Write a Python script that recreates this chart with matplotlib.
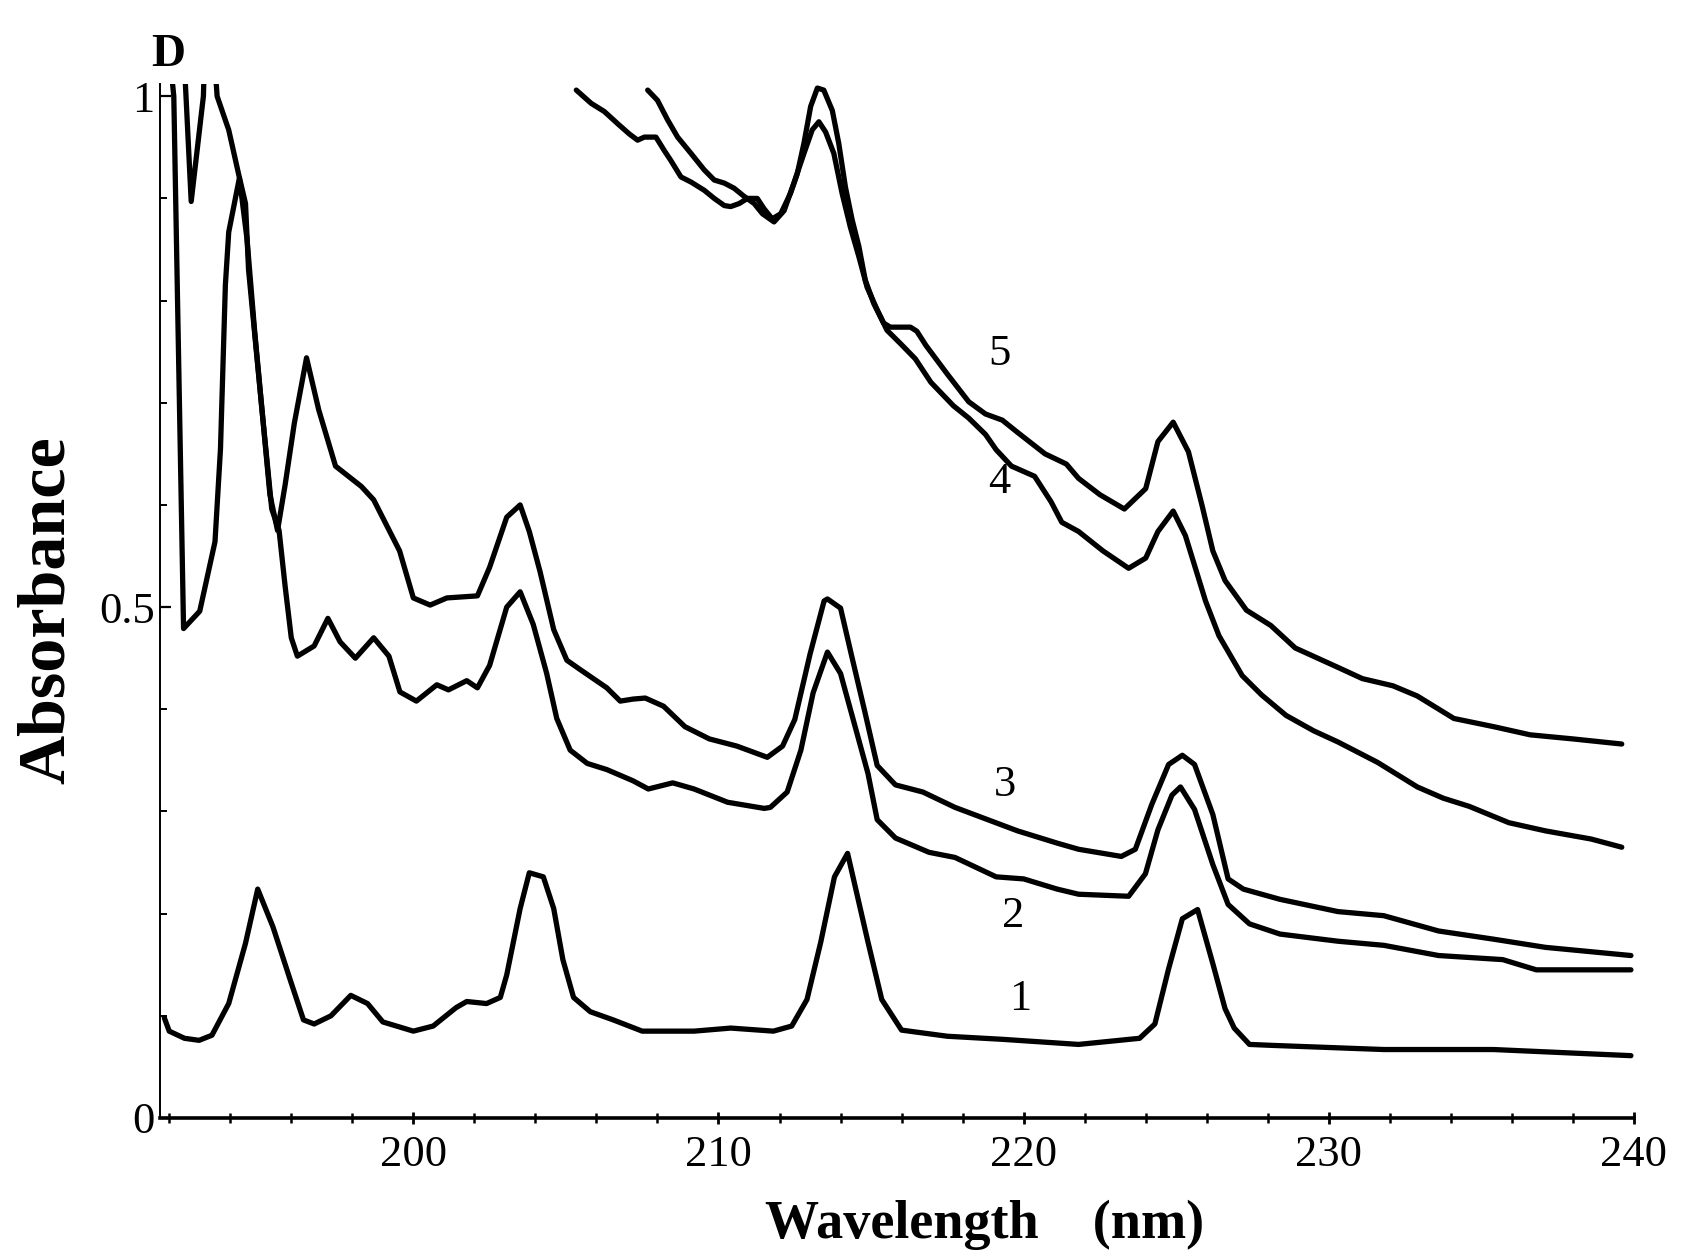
import matplotlib
matplotlib.use("Agg")
import matplotlib.pyplot as plt
from matplotlib.ticker import MultipleLocator

# ---- data (wavelength nm, absorbance) ----
c1_x = [191.84, 192.0, 192.5, 192.98, 193.4, 193.95, 194.5, 194.9, 195.4, 196.0, 196.4, 196.75,
        197.3, 197.95, 198.5, 199.0, 200.0, 200.65, 201.4, 201.75, 202.4, 202.85, 203.06, 203.5,
        203.8, 204.26, 204.6, 204.9, 205.25, 205.8, 206.55, 207.5, 209.2, 210.4, 211.8, 212.4,
        212.9, 213.35, 213.8, 214.23, 214.9, 215.35, 216.0, 217.5, 219.3, 221.8, 223.8, 224.3,
        224.75, 225.2, 225.7, 226.2, 226.6, 226.9, 227.4, 228.2, 231.8, 235.4, 239.9]
c1_y = [0.098, 0.085, 0.078, 0.076, 0.081, 0.112, 0.171, 0.224, 0.187, 0.132, 0.096, 0.092,
        0.100, 0.120, 0.112, 0.094, 0.085, 0.090, 0.108, 0.114, 0.112, 0.118, 0.140, 0.205,
        0.240, 0.236, 0.205, 0.155, 0.118, 0.104, 0.096, 0.085, 0.085, 0.088, 0.085, 0.090,
        0.116, 0.172, 0.236, 0.259, 0.172, 0.116, 0.086, 0.080, 0.077, 0.072, 0.078, 0.092,
        0.146, 0.195, 0.204, 0.151, 0.107, 0.088, 0.072, 0.071, 0.067, 0.067, 0.061]

c2_x = [192.5, 192.55, 192.72, 193.12, 193.15, 193.5, 193.57, 193.95, 194.28, 194.5, 194.6,
        195.03, 195.36, 195.6, 195.8, 196.0, 196.2, 196.75, 197.2, 197.6, 198.1, 198.7, 199.2,
        199.56, 200.1, 200.77, 201.15, 201.75, 202.1, 202.5, 203.06, 203.5, 203.93, 204.37,
        204.7, 205.14, 205.7, 206.34, 207.2, 207.7, 208.5, 209.2, 210.3, 211.5, 211.7, 212.25,
        212.7, 213.1, 213.57, 214.0, 214.45, 214.9, 215.2, 215.8, 216.9, 217.75, 219.1, 220.0,
        221.1, 221.8, 223.44, 223.99, 224.4, 224.86, 225.14, 225.6, 226.2, 226.7, 227.4, 228.4,
        230.3, 231.8, 233.6, 235.7, 236.8, 239.9]
c2_y = [1.03, 1.0, 0.897, 1.0, 1.03, 1.03, 1.0, 0.967, 0.923, 0.895, 0.83,
        0.696, 0.596, 0.575, 0.52, 0.47, 0.452, 0.462, 0.489, 0.466, 0.450, 0.470, 0.452,
        0.417, 0.408, 0.424, 0.419, 0.428, 0.421, 0.443, 0.500, 0.515, 0.483, 0.435,
        0.391, 0.360, 0.347, 0.341, 0.330, 0.322, 0.328, 0.322, 0.309, 0.303, 0.304, 0.319,
        0.360, 0.416, 0.456, 0.435, 0.386, 0.337, 0.292, 0.274, 0.260, 0.255, 0.236, 0.234,
        0.224, 0.219, 0.217, 0.239, 0.282, 0.316, 0.324, 0.302, 0.248, 0.209, 0.190, 0.180,
        0.173, 0.169, 0.159, 0.155, 0.145, 0.145]

c3_x = [192.05, 192.15, 192.47, 193.0, 193.5, 193.68, 193.84, 193.95, 194.3, 194.55, 194.8,
        195.05, 195.3, 195.55, 195.8, 196.1, 196.5, 196.9, 197.45, 198.3, 198.7, 199.55,
        200.0, 200.55, 201.1, 202.1, 202.5, 203.06, 203.5, 203.8, 204.15, 204.6, 205.03, 205.46,
        206.34, 206.78, 207.2, 207.6, 208.2, 208.9, 209.7, 210.6, 211.6, 212.1, 212.5, 213.0,
        213.46, 213.57, 214.0, 214.35, 214.8, 215.2, 215.8, 216.7, 217.75, 219.8, 221.1, 221.8,
        223.2, 223.66, 224.2, 224.75, 225.2, 225.6, 226.2, 226.7, 227.2, 228.4, 230.3, 231.8,
        233.6, 235.4, 237.1, 239.9]
c3_y = [1.03, 1.0, 0.479, 0.496, 0.564, 0.655, 0.815, 0.867, 0.920, 0.860, 0.770,
        0.690, 0.610, 0.575, 0.620, 0.680, 0.744, 0.693, 0.638, 0.618, 0.605, 0.555,
        0.509, 0.502, 0.509, 0.511, 0.539, 0.588, 0.600, 0.574, 0.535, 0.478, 0.448, 0.439,
        0.421, 0.408, 0.410, 0.411, 0.403, 0.383, 0.371, 0.364, 0.353, 0.364, 0.390, 0.454,
        0.506, 0.508, 0.499, 0.454, 0.397, 0.345, 0.326, 0.319, 0.304, 0.281, 0.269, 0.263,
        0.256, 0.263, 0.307, 0.346, 0.355, 0.346, 0.297, 0.234, 0.224, 0.214, 0.202, 0.198,
        0.183, 0.175, 0.167, 0.159]

c4_x = [207.68, 208.0, 208.33, 208.66, 209.1, 209.53, 209.86, 210.19, 210.51, 210.84, 211.17,
        211.44, 211.82, 212.15, 212.47, 212.8, 213.07, 213.29, 213.51, 213.78, 214.05, 214.32,
        214.6, 214.87, 215.2, 215.52, 215.96, 216.45, 216.96, 217.7, 218.2, 218.75, 219.1,
        219.6, 220.36, 220.9, 221.25, 221.8, 222.6, 223.44, 224.0, 224.4, 224.9, 225.3, 225.96,
        226.4, 227.16, 227.8, 228.6, 229.5, 230.3, 231.6, 232.9, 233.75, 234.6, 235.9, 237.1,
        238.6, 239.6]
c4_y = [1.006, 0.996, 0.977, 0.960, 0.944, 0.928, 0.918, 0.915, 0.910, 0.902, 0.895,
        0.885, 0.877, 0.888, 0.915, 0.944, 0.967, 0.975, 0.965, 0.944, 0.905, 0.872,
        0.843, 0.813, 0.791, 0.771, 0.758, 0.743, 0.720, 0.697, 0.685, 0.669, 0.654,
        0.638, 0.628, 0.603, 0.583, 0.574, 0.555, 0.538, 0.548, 0.574, 0.594, 0.570, 0.506,
        0.472, 0.433, 0.414, 0.394, 0.379, 0.368, 0.348, 0.324, 0.313, 0.305, 0.289, 0.281,
        0.273, 0.265]

c5_x = [205.34, 205.83, 206.26, 206.7, 207.08, 207.35, 207.57, 207.95, 208.22, 208.44, 208.77,
        209.1, 209.53, 209.86, 210.19, 210.4, 210.68, 210.95, 211.27, 211.49, 211.76, 212.04,
        212.36, 212.58, 212.8, 213.02, 213.24, 213.45, 213.73, 213.94, 214.16, 214.38, 214.6,
        214.81, 215.09, 215.41, 215.63, 216.29, 216.5, 216.8, 217.5, 218.2, 218.75, 219.3,
        219.8, 220.7, 221.4, 221.8, 222.5, 223.3, 224.0, 224.4, 224.9, 225.4, 225.85, 226.2,
        226.6, 227.3, 228.1, 228.9, 230.3, 231.1, 232.1, 232.9, 234.1, 235.4, 236.6,
        238.0, 239.6]
c5_y = [1.006, 0.993, 0.985, 0.973, 0.963, 0.957, 0.960, 0.960, 0.947, 0.937, 0.921,
        0.916, 0.908, 0.900, 0.893, 0.892, 0.895, 0.900, 0.900, 0.890, 0.880, 0.885,
        0.905, 0.924, 0.954, 0.990, 1.008, 1.006, 0.986, 0.954, 0.911, 0.879, 0.853,
        0.820, 0.797, 0.778, 0.774, 0.774, 0.770, 0.756, 0.728, 0.701, 0.689, 0.683,
        0.671, 0.650, 0.640, 0.626, 0.610, 0.596, 0.616, 0.662, 0.681, 0.652, 0.599, 0.555,
        0.526, 0.497, 0.482, 0.460, 0.441, 0.430, 0.423, 0.413, 0.391, 0.383, 0.375,
        0.371, 0.366]

curve_labels = ["1", "2", "3", "4", "5"]
label_x = [219.9, 219.65, 219.4, 219.2, 219.2]
label_y = [0.116, 0.198, 0.326, 0.622, 0.748]

x_ticks = [200, 210, 220, 230, 240]
y_ticks = [0, 0.5, 1]
y_tick_labels = ["0", "0.5", "1"]

# ---- figure ----
serif = ["Liberation Serif", "DejaVu Serif"]
plt.rcParams["font.family"] = serif

fig = plt.figure(figsize=(16.92, 12.59), dpi=100)
ax = fig.add_axes([0.0946, 0.112, 0.8711, 0.8213])

for xs, ys in [(c1_x, c1_y), (c2_x, c2_y), (c3_x, c3_y), (c4_x, c4_y), (c5_x, c5_y)]:
    ax.plot(xs, ys, color="black", lw=3.8, solid_joinstyle="round", solid_capstyle="round")

for t, lx, ly in zip(curve_labels, label_x, label_y):
    ax.text(lx, ly, t, fontsize=32, ha="center", va="center")

ax.set_xlim(191.7, 240)
ax.set_ylim(0, 1.012)

ax.spines["top"].set_visible(False)
ax.spines["right"].set_visible(False)
ax.spines["left"].set_linewidth(1.4)
ax.spines["bottom"].set_linewidth(2.6)

ax.set_xticks(x_ticks)
ax.set_xticklabels([str(v) for v in x_ticks])
ax.xaxis.set_minor_locator(MultipleLocator(2))
ax.set_yticks(y_ticks)
ax.set_yticklabels(y_tick_labels)
ax.yaxis.set_minor_locator(MultipleLocator(0.1))
ax.tick_params(axis="x", which="major", direction="inout", length=9, width=2, labelsize=32, pad=8)
ax.tick_params(axis="x", which="minor", direction="inout", length=7, width=1.8)
ax.tick_params(axis="y", which="major", direction="in", length=8, width=1.6, labelsize=32, pad=4)
ax.tick_params(axis="y", which="minor", direction="in", length=5, width=1.4)

ax.text(191.96, 1.04, "D", fontsize=34, fontweight="bold", ha="center", va="center", clip_on=False)

fig.text(0.028, 0.5155, "Absorbance", rotation=90, fontsize=49, fontweight="bold",
         ha="center", va="center")
fig.text(0.452, 0.017, "Wavelength    (nm)", fontsize=39, fontweight="bold",
         ha="left", va="baseline")

fig.savefig("out.png", dpi=100, facecolor="white")
